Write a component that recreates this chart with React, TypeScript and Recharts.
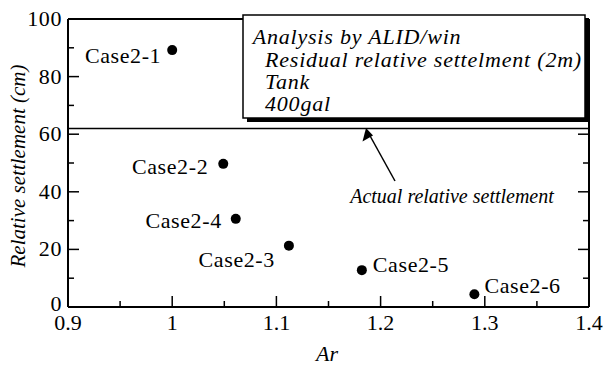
import { ReferenceLine, Scatter, ScatterChart, XAxis, YAxis } from 'recharts';

const caseNames = ['Case2-1', 'Case2-2', 'Case2-3', 'Case2-4', 'Case2-5', 'Case2-6'];
const arValues = [1.0, 1.049, 1.112, 1.061, 1.182, 1.29];
const settlementValues = [89.2, 49.7, 21.3, 30.6, 12.8, 4.4];
const actualSettlement = 62;

const xTicks = [0.9, 0.95, 1, 1.05, 1.1, 1.15, 1.2, 1.25, 1.3, 1.35, 1.4];
const yTicks = [0, 10, 20, 30, 40, 50, 60, 70, 80, 90, 100];

const legendLines = [
    'Analysis by ALID/win',
    'Residual relative settelment (2m)',
    'Tank',
    '400gal',
];

// Liberation Serif loses its serifs when hinted above 22px, so stay at 22 and widen with spacing
const serif = 'Liberation Serif';

// where each point's name sits relative to its dot
const labelPlacement: Record<string, { dx: number; dy: number; anchor: 'start' | 'end' }> = {
    'Case2-1': { dx: -11, dy: 13, anchor: 'end' },
    'Case2-2': { dx: -15, dy: 10, anchor: 'end' },
    'Case2-3': { dx: -14, dy: 21, anchor: 'end' },
    'Case2-4': { dx: -14, dy: 9, anchor: 'end' },
    'Case2-5': { dx: 11, dy: 2, anchor: 'start' },
    'Case2-6': { dx: 10, dy: -1, anchor: 'start' },
};

const data = caseNames.map((name, i) => ({
    name,
    ar: arValues[i],
    settlement: settlementValues[i],
}));

const isMajorX = (v: number) => Math.abs(v * 10 - Math.round(v * 10)) < 1e-6;
const isMajorY = (v: number) => v % 20 === 0;

// ticks point inwards on all four sides; only majors get a label
const makeTick = (side: 'bottom' | 'top' | 'left' | 'right') => (props: any) => {
    const { x, y, payload } = props;
    const v = payload.value as number;
    const major = side === 'bottom' || side === 'top' ? isMajorX(v) : isMajorY(v);
    const len = major ? 11 : 6;
    if (side === 'bottom') {
        return (
            <g>
                <line x1={x} y1={y} x2={x} y2={y - len} stroke="#000" strokeWidth={1.5} />
                {major && (
                    <text x={x} y={y + 23} textAnchor="middle" fontSize={22} fontFamily={serif} fill="#000">
                        {String(v)}
                    </text>
                )}
            </g>
        );
    }
    if (side === 'top') {
        return <line x1={x} y1={y} x2={x} y2={y + len} stroke="#000" strokeWidth={1.5} />;
    }
    if (side === 'left') {
        return (
            <g>
                <line x1={x} y1={y} x2={x + len} y2={y} stroke="#000" strokeWidth={1.5} />
                {major && (
                    <text
                        x={x - 6}
                        y={y + (v === 0 ? 4 : 7)}
                        textAnchor="end"
                        fontSize={22}
                        letterSpacing={0.6}
                        fontFamily={serif}
                        fill="#000"
                    >
                        {String(v)}
                    </text>
                )}
            </g>
        );
    }
    return <line x1={x} y1={y} x2={x - len} y2={y} stroke="#000" strokeWidth={1.5} />;
};

const CaseDot = (props: any) => {
    const { cx, cy, payload } = props;
    const place = labelPlacement[payload.name];
    return (
        <g>
            <circle cx={cx} cy={cy} r={5} fill="#000" />
            <text
                x={cx + place.dx}
                y={cy + place.dy}
                textAnchor={place.anchor}
                fontSize={22}
                letterSpacing={0.6}
                fontFamily={serif}
                fill="#000"
            >
                {payload.name}
            </text>
        </g>
    );
};

const axisLine = { stroke: '#000', strokeWidth: 2 };

export default function App() {
    return (
        <div style={{ position: 'fixed', left: 0, top: 0, width: 603, height: 367, background: '#fff' }}>
            <ScatterChart width={603} height={367} margin={{ top: 0, right: 0, bottom: 0, left: 0 }}>
                <XAxis
                    type="number"
                    dataKey="ar"
                    domain={[0.9, 1.4]}
                    ticks={xTicks}
                    interval={0}
                    height={60}
                    tickSize={0}
                    tickMargin={0}
                    axisLine={axisLine}
                    tick={makeTick('bottom')}
                    allowDataOverflow
                />
                <XAxis
                    xAxisId="top"
                    orientation="top"
                    type="number"
                    domain={[0.9, 1.4]}
                    ticks={xTicks}
                    interval={0}
                    height={19}
                    tickSize={0}
                    tickMargin={0}
                    axisLine={axisLine}
                    tick={makeTick('top')}
                    allowDataOverflow
                />
                <YAxis
                    type="number"
                    dataKey="settlement"
                    domain={[0, 100]}
                    ticks={yTicks}
                    interval={0}
                    width={68}
                    tickSize={0}
                    tickMargin={0}
                    axisLine={axisLine}
                    tick={makeTick('left')}
                    allowDataOverflow
                />
                <YAxis
                    yAxisId="right"
                    orientation="right"
                    type="number"
                    domain={[0, 100]}
                    ticks={yTicks}
                    interval={0}
                    width={14}
                    tickSize={0}
                    tickMargin={0}
                    axisLine={axisLine}
                    tick={makeTick('right')}
                    allowDataOverflow
                />
                <ReferenceLine y={actualSettlement} stroke="#000" strokeWidth={1.5} />
                <Scatter data={data} shape={CaseDot} isAnimationActive={false} />
                <Scatter xAxisId="top" yAxisId="right" data={[]} isAnimationActive={false} />
            </ScatterChart>
            <svg
                width={603}
                height={367}
                style={{ position: 'absolute', left: 0, top: 0, pointerEvents: 'none' }}
                fontFamily={serif}
            >
                {/* legend box with drop shadow */}
                <rect x={247} y={19} width={342} height={103} fill="#000" />
                <rect x={243} y={15} width={342} height={103} fill="#fff" stroke="#000" strokeWidth={1.5} />
                {legendLines.map((line, i) => (
                    <text
                        key={line}
                        x={i === 0 ? 252.7 : 265}
                        y={44.3 + i * 22.3}
                        fontSize={22}
                        letterSpacing={0.8}
                        fontStyle="italic"
                        fill="#000"
                    >
                        {line}
                    </text>
                ))}
                {/* arrow pointing to the actual settlement line */}
                <line x1={395} y1={181} x2={369} y2={134} stroke="#000" strokeWidth={1.5} />
                <polygon points="366,128 362.5,141.5 373,135.5" fill="#000" />
                <text x={452} y={203} textAnchor="middle" fontSize={20} fontStyle="italic" fill="#000">
                    Actual relative settlement
                </text>
                <text
                    transform="translate(25,166) rotate(-90)"
                    textAnchor="middle"
                    fontSize={21}
                    fontStyle="italic"
                    fill="#000"
                >
                    Relative settlement (cm)
                </text>
                <text x={327} y={361} textAnchor="middle" fontSize={22} fontStyle="italic" fill="#000">
                    Ar
                </text>
            </svg>
        </div>
    );
}
